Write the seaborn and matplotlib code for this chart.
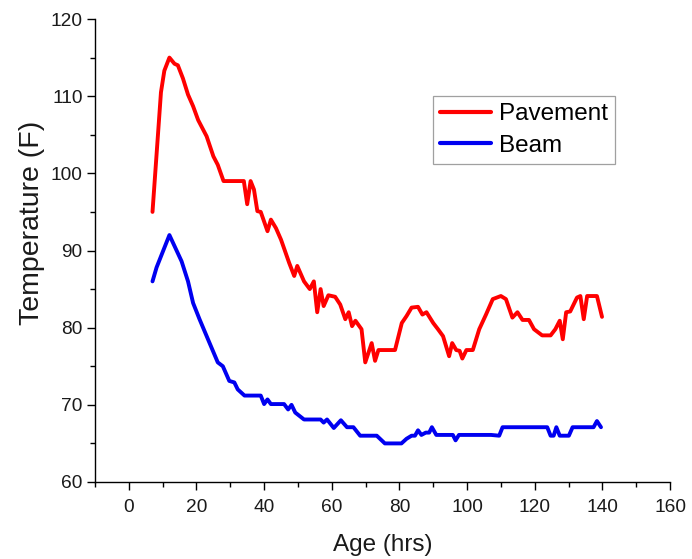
import matplotlib
matplotlib.use("Agg")
import matplotlib.pyplot as plt
from matplotlib.ticker import MultipleLocator
import numpy as np
import pandas as pd
import seaborn as sns

# Pavement temperature record (age in hours, temperature in F)
pavement_age = [7, 9.5, 10.5, 12, 13.5, 14.5, 16, 17.5, 19, 20.5, 23, 25, 26.3, 28, 34,
                35, 36, 37, 38, 39, 41, 42, 43.5, 45, 47.4, 48.9, 49.8, 51.8, 53.5, 54.7,
                55.7, 56.7, 57.6, 59, 61, 62.5, 64, 65, 66, 67, 68.8, 69.9, 71.8, 72.8,
                73.8, 78.7, 80.7, 82.1, 83.6, 85.5, 86.8, 88, 90, 91.4, 92.9, 94.7, 95.6,
                96.8, 97.8, 98.6, 99.8, 101.7, 103.6, 105.6, 107.6, 110, 111.5, 113.4,
                114.9, 116.4, 118.3, 119.8, 122.2, 124.7, 126.1, 127.4, 128.3, 129.3,
                130.5, 132.5, 133.5, 134.5, 135.5, 138.4, 139.9]
pavement_temp = [95, 110.5, 113.3, 115, 114.2, 114, 112.3, 110.2, 108.7, 106.9, 104.8,
                 102.2, 101.1, 99, 99, 96, 99, 97.9, 95.1, 95, 92.5, 94, 92.9, 91.4, 88.4,
                 86.7, 88, 86, 85, 86, 82, 85, 82.8, 84.2, 84, 83, 81.1, 82, 80.2, 80.9,
                 79.8, 75.5, 78, 75.7, 77.1, 77.1, 80.6, 81.5, 82.6, 82.7, 81.7, 82, 80.6,
                 79.8, 78.9, 76.3, 78, 77.1, 77, 76, 77.1, 77.1, 79.8, 81.7, 83.7, 84.1,
                 83.7, 81.3, 82, 81, 81, 79.8, 79, 79, 79.8, 80.9, 78.5, 82, 82.1, 83.9,
                 84.1, 81.1, 84.1, 84.1, 81.4]

# Beam temperature record
beam_age = [7, 8.2, 12, 15.6, 17.5, 19, 20.9, 23.4, 26.3, 27.8, 29.7, 31.2, 32.2, 34.2,
            39, 40, 41, 42, 45.9, 47.1, 48.1, 49.2, 51.8, 56.7, 57.6, 58.6, 60.6, 62.7,
            64.5, 66.4, 68.4, 73.3, 75.7, 80.6, 82.1, 83.6, 84.6, 85.5, 86.5, 87.8, 88.8,
            89.6, 90.9, 95.8, 96.6, 97.6, 107.1, 109.5, 110.5, 120.8, 123.7, 124.7, 125.6,
            126.4, 127.4, 130.1, 131.2, 137.4, 138.4, 139.6]
beam_temp = [86, 87.8, 92, 88.6, 86, 83.2, 81.1, 78.5, 75.5, 75, 73.1, 72.9, 72, 71.2,
             71.2, 70.1, 70.7, 70.1, 70.1, 69.4, 70, 69, 68.1, 68.1, 67.7, 68.1, 67, 68,
             67.1, 67.1, 66, 66, 65, 65, 65.6, 66, 66, 66.7, 66.1, 66.4, 66.4, 67.1, 66.1,
             66.1, 65.4, 66.1, 66.1, 66, 67.1, 67.1, 67.1, 66, 66, 67.1, 66, 66, 67.1,
             67.1, 67.9, 67.1]

series_names = ["Pavement", "Beam"]
series_colors = ["#ff0000", "#0000f0"]

df = pd.concat([
    pd.DataFrame({"Age": pavement_age, "Temp": pavement_temp, "Series": series_names[0]}),
    pd.DataFrame({"Age": beam_age, "Temp": beam_temp, "Series": series_names[1]}),
], ignore_index=True)

sns.set_theme(style="ticks")
plt.rcParams["font.family"] = ["Liberation Sans", "DejaVu Sans"]

fig = plt.figure(figsize=(6.92, 5.59), dpi=100)
ax = fig.add_axes([95 / 692, 1 - 482 / 559, 575 / 692, 463 / 559])

sns.lineplot(data=df, x="Age", y="Temp", hue="Series", hue_order=series_names,
             palette=series_colors, estimator=None, sort=False, linewidth=2.8, ax=ax)

ax.set_xlim(-10, 160)
ax.set_ylim(60, 120)
ax.xaxis.set_major_locator(MultipleLocator(20))
ax.xaxis.set_minor_locator(MultipleLocator(10))
ax.yaxis.set_major_locator(MultipleLocator(10))
ax.yaxis.set_minor_locator(MultipleLocator(5))

for side in ("top", "right"):
    ax.spines[side].set_visible(False)
for side in ("left", "bottom"):
    ax.spines[side].set_linewidth(1.0)
    ax.spines[side].set_color("black")

ax.tick_params(which="major", direction="out", length=6, width=1.0, color="black",
               labelsize=13.8, labelcolor="#1a1a1a")
ax.tick_params(which="minor", direction="out", length=3.5, width=1.0, color="black")
ax.tick_params(axis="x", pad=6)
ax.tick_params(axis="y", pad=3)

ax.set_xlabel("Age (hrs)", fontsize=17.5, color="#1a1a1a", labelpad=13)
ax.set_ylabel("Temperature (F)", fontsize=20.5, color="#1a1a1a", labelpad=4, y=0.56)

leg = ax.legend(loc="upper left", bbox_to_anchor=(0.588, 0.834), borderaxespad=0,
                fontsize=17.5, frameon=True, fancybox=False, handlelength=2.1,
                handletextpad=0.3, borderpad=0.3, labelspacing=0.4)
leg.get_frame().set_edgecolor("#888888")
leg.get_frame().set_linewidth(0.9)
for line in leg.get_lines():
    line.set_linewidth(3)
for t in leg.get_texts():
    t.set_color("black")

fig.savefig("out.png", dpi=100)
